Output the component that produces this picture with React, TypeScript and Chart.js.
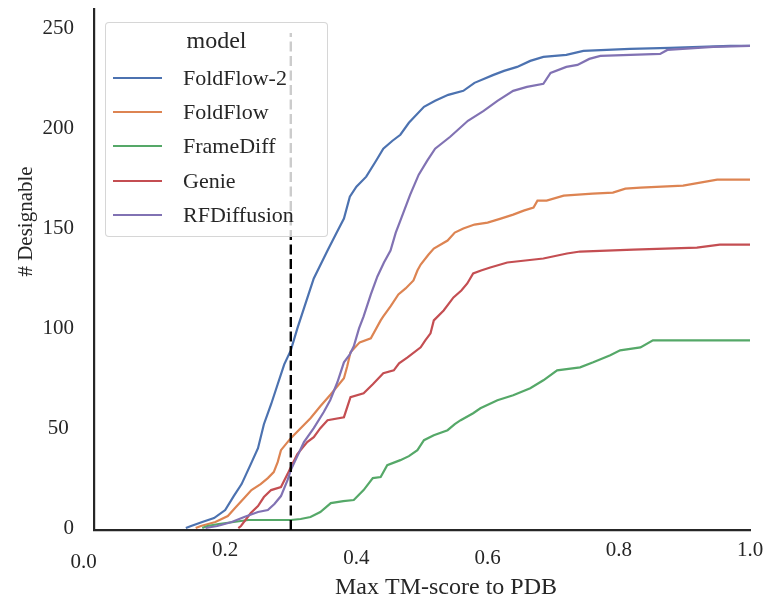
import React, { useEffect, useRef } from 'react';
import { Chart, registerables } from 'chart.js';

Chart.register(...registerables);

const FONT = '"Liberation Serif", "Times New Roman", serif';
const TEXT = '#262626';

const X_TITLE = 'Max TM-score to PDB';
const Y_TITLE = '# Designable';
const LEGEND_TITLE = 'model';

const modelNames = ['FoldFlow-2', 'FoldFlow', 'FrameDiff', 'Genie', 'RFDiffusion'];
const modelColors = ['#4C72B0', '#DD8452', '#55A868', '#C44E52', '#8172B3'];

const xTicks = [0, 0.2, 0.4, 0.6, 0.8, 1.0];
const yTicks = [0, 50, 100, 150, 200, 250];

const threshold = 0.3;
const thresholdRange = [-1, 248];

// FoldFlow-2
const ff2X = [0.14, 0.148, 0.165, 0.183, 0.2, 0.213, 0.225, 0.239, 0.25, 0.259, 0.27, 0.28, 0.29, 0.3, 0.31, 0.32, 0.335, 0.356, 0.37, 0.381, 0.39, 0.4, 0.415, 0.43, 0.441, 0.455, 0.467, 0.48, 0.503, 0.52, 0.54, 0.563, 0.58, 0.609, 0.625, 0.645, 0.665, 0.685, 0.72, 0.746, 0.817, 0.878, 0.97, 1.0];
const ff2Y = [0, 1, 3, 5, 9, 16, 22, 32, 40, 52, 62, 72, 82, 89, 100, 110, 125, 139, 148, 155, 166, 171, 176, 184, 190, 194, 197, 203, 211, 214, 217, 219, 223, 227, 229, 231, 234, 236, 237, 239, 240, 240.5, 241.5, 241.5];

// FoldFlow
const ffX = [0.155, 0.163, 0.185, 0.204, 0.215, 0.229, 0.24, 0.254, 0.265, 0.274, 0.28, 0.285, 0.3, 0.315, 0.33, 0.345, 0.361, 0.381, 0.386, 0.391, 0.405, 0.422, 0.437, 0.441, 0.452, 0.464, 0.475, 0.487, 0.493, 0.498, 0.51, 0.518, 0.539, 0.55, 0.563, 0.58, 0.6, 0.62, 0.639, 0.655, 0.67, 0.676, 0.69, 0.716, 0.76, 0.791, 0.81, 0.833, 0.898, 0.924, 0.95, 1.0];
const ffY = [0, 1, 3, 6, 10, 15, 19, 22, 25, 28, 33, 39, 45, 50, 55, 61, 67, 75, 81, 88, 93, 95, 104, 106, 111, 117, 120, 124, 129, 132, 137, 140, 144, 148, 150, 152, 153, 155, 157, 159, 160.5, 164, 164, 166.5, 167.5, 168, 170, 170.5, 171.5, 173, 174.5, 174.5];

// FrameDiff
const fdX = [0.165, 0.173, 0.19, 0.213, 0.235, 0.254, 0.3, 0.315, 0.33, 0.345, 0.361, 0.38, 0.396, 0.405, 0.411, 0.425, 0.437, 0.447, 0.467, 0.48, 0.493, 0.503, 0.518, 0.539, 0.55, 0.559, 0.578, 0.589, 0.615, 0.639, 0.665, 0.685, 0.706, 0.741, 0.761, 0.787, 0.802, 0.833, 0.852, 1.0];
const fdY = [0, 1, 2, 3, 4, 4, 4, 4.5, 5.5, 8, 12.5, 13.5, 14, 17, 19, 25, 25.5, 31.5, 34, 36, 39, 44, 46.5, 49, 52, 54, 57.5, 60, 64, 66.5, 70, 74, 79, 80.5, 83, 86.5, 89, 90.5, 94, 94];

// Genie
const genieX = [0.22, 0.224, 0.239, 0.25, 0.259, 0.27, 0.285, 0.295, 0.3, 0.31, 0.315, 0.325, 0.335, 0.345, 0.356, 0.381, 0.391, 0.411, 0.425, 0.441, 0.457, 0.465, 0.478, 0.498, 0.505, 0.513, 0.518, 0.533, 0.548, 0.56, 0.569, 0.578, 0.59, 0.604, 0.63, 0.685, 0.721, 0.741, 0.822, 0.919, 0.954, 1.0];
const genieY = [0, 1, 7.5, 11, 15.5, 19, 20.5, 27, 30.5, 37, 39, 43, 45.5, 50, 54, 55.5, 65.5, 67.5, 72, 77.5, 79, 82.5, 85.5, 90.5, 94, 97.5, 104, 109, 115.5, 119, 122.5, 127.5, 129, 130.5, 133, 135, 137.5, 138.5, 139.5, 140.5, 142, 142];

// RFDiffusion
const rfdX = [0.17, 0.188, 0.21, 0.229, 0.25, 0.265, 0.275, 0.285, 0.295, 0.3, 0.31, 0.32, 0.335, 0.35, 0.36, 0.371, 0.381, 0.39, 0.396, 0.404, 0.411, 0.422, 0.432, 0.442, 0.452, 0.46, 0.467, 0.482, 0.495, 0.508, 0.52, 0.543, 0.57, 0.594, 0.615, 0.639, 0.66, 0.685, 0.696, 0.72, 0.737, 0.755, 0.772, 0.863, 0.874, 0.944, 1.0];
const rfdY = [0, 1, 3, 5.5, 8, 9, 12, 16, 24, 29, 36, 43, 50, 58, 64, 73, 83, 87, 91, 100, 106, 117, 126, 133, 139, 148, 154, 167, 177, 184, 190, 196, 204, 209, 214, 219, 221, 222.5, 228, 231, 232, 235, 236.5, 237.5, 239.5, 241, 241.5];

const seriesX = [ff2X, ffX, fdX, genieX, rfdX];
const seriesY = [ff2Y, ffY, fdY, genieY, rfdY];

const lowerTicks = [0.4, 0.6];

const axisTitlesPlugin = {
  id: 'axisTitles',
  afterDraw(chart: any) {
    const { ctx, chartArea } = chart;
    ctx.save();
    ctx.fillStyle = TEXT;
    ctx.textAlign = 'center';
    ctx.textBaseline = 'middle';
    ctx.font = `24px ${FONT}`;
    ctx.fillText(X_TITLE, (chartArea.left + chartArea.right) / 2 + 24, chartArea.bottom + 58);
    ctx.font = `21px ${FONT}`;
    ctx.translate(26, (chartArea.top + chartArea.bottom) / 2 - 48);
    ctx.rotate(-Math.PI / 2);
    ctx.fillText(Y_TITLE, 0, 0);
    ctx.restore();
  },
};

export default function App() {
  const canvasRef = useRef<HTMLCanvasElement | null>(null);

  useEffect(() => {
    if (!canvasRef.current) return;
    const datasets: any[] = modelNames.map((name, i) => ({
      label: name,
      data: seriesX[i].map((x, j) => ({ x, y: seriesY[i][j] })),
      borderColor: modelColors[i],
      backgroundColor: modelColors[i],
      borderWidth: 2.2,
      pointRadius: 0,
      tension: 0,
      fill: false,
      order: modelNames.length - i,
    }));
    datasets.push({
      label: 'threshold',
      data: thresholdRange.map((y) => ({ x: threshold, y })),
      borderColor: '#000000',
      borderWidth: 2.4,
      borderDash: [10, 4.5],
      pointRadius: 0,
      fill: false,
      order: 0,
    });

    const chart = new Chart(canvasRef.current, {
      type: 'line',
      data: { datasets },
      options: {
        animation: false,
        responsive: false,
        layout: { padding: { left: 0, right: 15, top: 9, bottom: 0 } },
        plugins: {
          legend: { display: false },
          tooltip: { enabled: false },
        },
        scales: {
          x: {
            type: 'linear',
            min: 0,
            max: 1,
            z: 1,
            grid: { display: false, drawTicks: false },
            border: { display: true, color: TEXT, width: 2.2 },
            afterBuildTicks: (scale: any) => {
              scale.ticks = xTicks.map((v) => ({ value: v }));
            },
            afterFit: (scale: any) => {
              scale.height = 64;
              scale.paddingLeft = 0;
              scale.paddingRight = 0;
            },
            ticks: {
              padding: 8,
              color: TEXT,
              maxRotation: 0,
              autoSkip: false,
              font: (ctx: any) => ({
                family: FONT,
                size: 21,
                lineHeight: ctx.tick && ctx.tick.value === 0 ? 2.34 : ctx.tick && lowerTicks.includes(ctx.tick.value) ? 1.96 : 1.2,
              }),
              callback: (v: any) => (Number(v) === 0 ? '0.0\u2003' : Number(v).toFixed(1)),
            },
          },
          y: {
            type: 'linear',
            min: -1,
            max: 260,
            z: 1,
            grid: { display: false, drawTicks: false },
            border: { display: true, color: TEXT, width: 2.2 },
            afterBuildTicks: (scale: any) => {
              scale.ticks = yTicks.map((v) => ({ value: v }));
            },
            afterFit: (scale: any) => {
              scale.width = 94;
              scale.paddingTop = 0;
              scale.paddingBottom = 0;
            },
            ticks: {
              padding: 20,
              color: TEXT,
              autoSkip: false,
              font: { family: FONT, size: 21 },
              callback: (v: any) => (Number(v) === 50 ? '50 ' : String(v)),
            },
          },
        },
      },
      plugins: [axisTitlesPlugin],
    });
    return () => chart.destroy();
  }, []);

  return (
    <div style={{ position: 'absolute', left: 0, top: 0, width: 765, height: 594, background: '#fff' }}>
      <canvas ref={canvasRef} width={765} height={594} style={{ position: 'absolute', left: 0, top: 0 }} />
      <div
        style={{
          position: 'absolute',
          left: 105,
          top: 22,
          width: 221,
          height: 213,
          border: '1px solid rgba(204,204,204,0.8)',
          borderRadius: 4,
          background: 'rgba(255,255,255,0.8)',
          fontFamily: FONT,
          color: TEXT,
        }}
      >
        <div
          style={{
            position: 'absolute',
            left: 0,
            width: '100%',
            top: 3,
            height: 28,
            lineHeight: '28px',
            fontSize: 24,
            textAlign: 'center',
          }}
        >
          {LEGEND_TITLE}
        </div>
        {modelNames.map((name, i) => (
          <div
            key={name}
            style={{ position: 'absolute', left: 0, top: Math.round(42 + i * 34.2), height: 26, width: '100%' }}
          >
            <div
              style={{
                position: 'absolute',
                left: 7,
                top: 12,
                width: 49,
                height: 2,
                background: modelColors[i],
              }}
            />
            <div
              style={{
                position: 'absolute',
                left: 77,
                top: 0,
                height: 26,
                lineHeight: '26px',
                fontSize: 22,
                whiteSpace: 'nowrap',
              }}
            >
              {name}
            </div>
          </div>
        ))}
      </div>
    </div>
  );
}
